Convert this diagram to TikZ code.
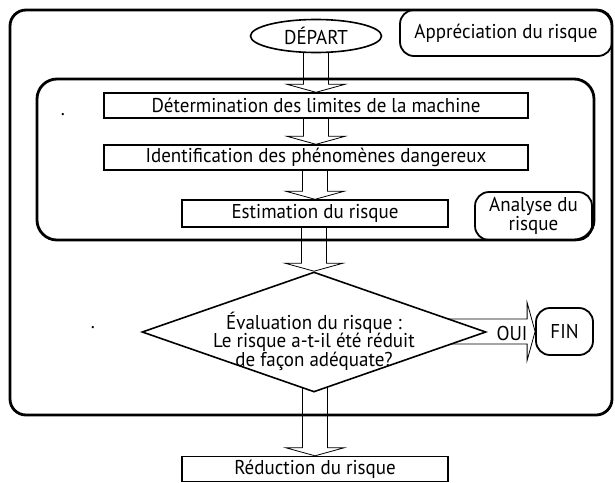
\documentclass[tikz,border=0pt]{standalone}
\usepackage{fontspec}
\setmainfont{PT Sans}[FakeStretch=0.95]
\usetikzlibrary{shapes.geometric,calc,backgrounds}

\tikzset{
  texte/.style={font=\fontsize{20}{18.5}\selectfont},
  boite/.style={texte, draw, line width=1.4pt, fill=white, minimum height=25pt, inner sep=0pt},
  cadre/.style={texte, draw, line width=1.8pt, fill=white, rounded corners=14pt, align=center, inner sep=0pt},
  zone/.style={line width=2.8pt},
  fleche/.style={line width=.8pt},
  depart/.style={texte, draw, ellipse, line width=1.6pt, fill=white, minimum width=131pt, minimum height=33pt, inner sep=0pt},
  decision/.style={draw, diamond, line width=1.6pt, fill=white, minimum width=344pt, minimum height=120pt, inner sep=0pt}
}

\def\demilarge{12.5pt}
\def\demitete{29pt}
\def\pointe{8pt}

\newcommand\flechebas[2]{%
  \begin{pgfonlayer}{background}
    \draw[fleche] let \p1 = (#1), \p2 = (#2) in
      (\x2-\demilarge, \y1) -- (\x2-\demilarge, \y2+\pointe) -- (\x2-\demitete, \y2+\pointe)
      -- (\x2, \y2) -- (\x2+\demitete, \y2+\pointe) -- (\x2+\demilarge, \y2+\pointe) -- (\x2+\demilarge, \y1);
  \end{pgfonlayer}}

\newcommand\flechedroite[2]{%
  \begin{pgfonlayer}{background}
    \draw[fleche] let \p1 = (#1), \p2 = (#2) in
      (\x1, \y2+\demilarge) -- (\x2-\pointe, \y2+\demilarge) -- (\x2-\pointe, \y2+\demitete)
      -- (\x2, \y2) -- (\x2-\pointe, \y2-\demitete) -- (\x2-\pointe, \y2-\demilarge) -- (\x1, \y2-\demilarge);
  \end{pgfonlayer}}

\begin{document}
\begin{tikzpicture}[x=1pt, y=-1pt]
  \useasboundingbox (0,0) rectangle (615,482);
  \node[depart] (depart) at (316,36) {DÉPART};
  \node[cadre, minimum width=212pt, minimum height=46pt] (appreciation) at (506,33) {Appréciation du risque};
  \node[boite, minimum width=424pt] (limites) at (316,105.5) {Détermination des limites de la machine};
  \node[boite, minimum width=424pt] (phenomenes) at (316,157.5) {Identification des phénomènes dangereux};
  \node[boite, minimum width=266pt, minimum height=27pt] (estimation) at (315,213.5) {Estimation du risque};
  \node[cadre, minimum width=117pt, minimum height=48pt] (analyse) at (533.5,216) {Analyse du\\risque};
  \node[decision] (evaluation) at (314,332) {};
  \node[texte, align=center] (question) at (314,341) {Évaluation du risque :\\Le risque a-t-il été réduit\\de façon adéquate?};
  \node[cadre, minimum width=57pt, minimum height=47pt] (fin) at (564.5,331.5) {FIN};
  \node[texte, inner sep=0pt] (oui) at (512,333) {OUI};
  \node[boite, minimum width=266pt] (reduction) at (315,469) {Réduction du risque};
  \node[texte, inner sep=0pt] (pointa) at (63,115) {.};
  \node[texte, inner sep=0pt] (pointb) at (93,328) {.};
  \draw[zone, rounded corners=16pt] (10,10) rectangle (612,415);
  \draw[zone, rounded corners=20pt] (37,79) rectangle (594,240);
  \foreach \de/\vers in {depart.center/limites.north, limites.south/phenomenes.north,
      phenomenes.south/estimation.north, estimation.south/evaluation.north,
      evaluation.center/reduction.north}
    \flechebas{\de}{\vers};
  \flechedroite{evaluation.center}{fin.west}
\end{tikzpicture}
\end{document}
